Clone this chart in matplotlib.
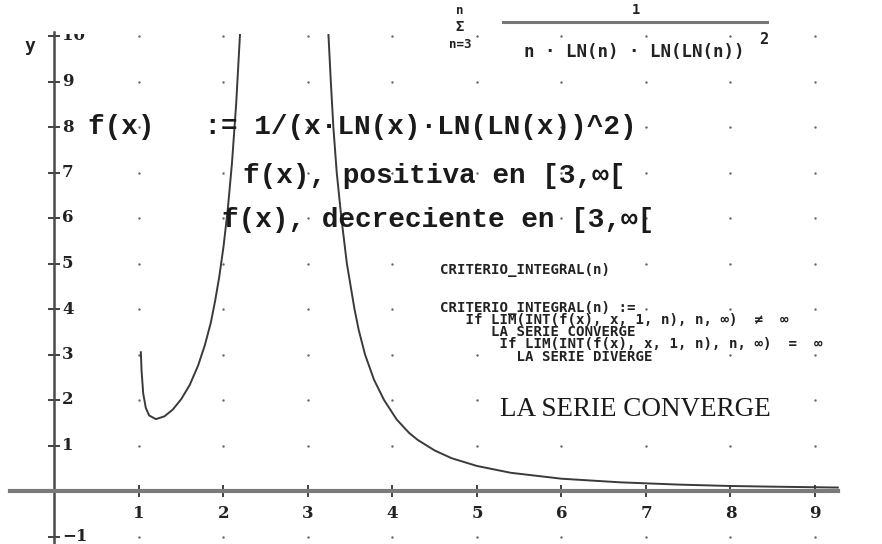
import matplotlib
matplotlib.use("Agg")
import matplotlib.pyplot as plt
from matplotlib.patches import Rectangle

# --- data ---
left_x = [1.022, 1.03, 1.05, 1.08, 1.12, 1.2, 1.3, 1.4, 1.5, 1.6, 1.7,
          1.78, 1.85, 1.9, 1.95, 2.0, 2.05, 2.1, 2.15, 2.2]
left_y = [3.05, 2.65, 2.14, 1.83, 1.66, 1.58, 1.64, 1.79, 2.02, 2.33, 2.76,
          3.21, 3.7, 4.17, 4.71, 5.37, 6.18, 7.2, 8.51, 10.2]
right_x = [3.24, 3.27, 3.30, 3.34, 3.395, 3.46, 3.55, 3.6, 3.675, 3.78, 3.9,
           4.05, 4.2, 4.3, 4.5, 4.7, 5.0, 5.4, 6.0, 6.7, 7.4, 8.0, 8.5, 9.27]
right_y = [10.1, 9.0, 8.0, 7.0, 6.0, 5.0, 4.0, 3.54, 3.0, 2.45, 2.0,
           1.57, 1.27, 1.12, 0.89, 0.72, 0.55, 0.40, 0.27, 0.19, 0.14, 0.11, 0.095, 0.076]

x_ticks = [1, 2, 3, 4, 5, 6, 7, 8, 9]
y_ticks = [-1, 1, 2, 3, 4, 5, 6, 7, 8, 9, 10]

W, H = 882, 544
X0, XS = 54.5, 84.5   # pixel of x=0, pixels per unit
Y0, YS = 491.0, 45.5  # pixel of y=0, pixels per unit

fig = plt.figure(figsize=(W / 100, H / 100), dpi=100)
ax = fig.add_axes([0, 0, 1, 1])
ax.set_xlim(-X0 / XS, (W - X0) / XS)
ax.set_ylim((Y0 - H) / YS, Y0 / YS)
ax.set_facecolor("white")


def px(x, y):
    # pixel position -> figure fraction, used for the formula block
    return x / W, 1 - y / H


# axes through the origin
for s in ["top", "right"]:
    ax.spines[s].set_visible(False)
ax.spines["left"].set_position(("data", 0))
ax.spines["bottom"].set_position(("data", 0))
ax.spines["left"].set_bounds((Y0 - H) / YS, 10.09)
ax.spines["bottom"].set_bounds((10 - X0) / XS, (838 - X0) / XS)
ax.spines["left"].set_color("#4a4a4a")
ax.spines["left"].set_linewidth(1.8)
ax.spines["bottom"].set_color("#7a7a7a")
ax.spines["bottom"].set_linewidth(3)

ax.set_xticks(x_ticks)
ax.set_yticks(y_ticks)
ax.tick_params(direction="inout", length=8, width=1.3, colors="#333333",
               labelbottom=False, labelleft=False)

clip = Rectangle((-1, -2), 12, 12.05, transform=ax.transData)

# tick labels
lab_font = dict(family="DejaVu Serif", weight="bold", fontsize=12, color="#222222")
for v in x_ticks:
    ax.text(v, -23 / YS, str(v), ha="center", va="center", **lab_font)
for v in y_ticks:
    t = ax.text(0.09, v, str(v).replace("-", "\u2212"), ha="left", va="center", **lab_font)
    t.set_clip_path(clip)
    t.set_clip_on(True)
ax.text(*px(30, 46), "y", transform=fig.transFigure, ha="center", va="center",
        family="DejaVu Sans Mono", weight="bold", fontsize=13, color="#222222")

# grid dots
gx = [x for x in x_ticks for y in y_ticks]
gy = [y for x in x_ticks for y in y_ticks]
ax.scatter(gx, gy, s=3, color="#666666", lw=0, zorder=1)

# curve
for xs, ys in [(left_x, left_y), (right_x, right_y)]:
    ln, = ax.plot(xs, ys, color="#3a3a3a", lw=1.4, zorder=3)
    ln.set_clip_path(clip)

# big definitions
big = dict(family="Liberation Mono", weight="bold", fontsize=20, color="#1a1a1a",
           va="center", ha="left", zorder=4)
ax.text((88 - X0) / XS, 8, "f(x)   := 1/(x\u00b7LN(x)\u00b7LN(LN(x))^2)", **big)
ax.text((243 - X0) / XS, (Y0 - 176) / YS, "f(x), positiva en [3,\u221e[", **big)
ax.text((222 - X0) / XS, (Y0 - 220) / YS, "f(x), decreciente en [3,\u221e[", **big)

# summation block
sm = dict(family="DejaVu Sans Mono", weight="bold", color="#222222",
          ha="center", va="center", transform=fig.transFigure)
fig.text(*px(460, 10), "n", fontsize=9, **sm)
fig.text(*px(460, 27), "\u03a3", fontsize=10, **sm)
fig.text(*px(460, 45), "n=3", fontsize=9, **sm)
fig.text(*px(636, 10), "1", fontsize=10, **sm)
fig.add_artist(plt.Line2D([503 / W, 767 / W], [1 - 22 / H, 1 - 22 / H],
                          color="#777777", lw=2.2))
fig.text(*px(634, 52), "n \u00b7 LN(n) \u00b7 LN(LN(n))", fontsize=12.5, **sm)
fig.text(*px(764, 39), "2", fontsize=11, **sm)

# CRITERIO_INTEGRAL block
small = dict(family="DejaVu Sans Mono", weight="bold", fontsize=10.2, color="#222222",
             ha="left", transform=fig.transFigure)
fig.text(*px(440, 270), "CRITERIO_INTEGRAL(n)", va="center", **small)
criterio = ("CRITERIO_INTEGRAL(n) :=\n"
            "   If LIM(INT(f(x), x, 1, n), n, \u221e)  \u2260  \u221e\n"
            "      LA SERIE CONVERGE\n"
            "       If LIM(INT(f(x), x, 1, n), n, \u221e)  =  \u221e\n"
            "         LA SERIE DIVERGE")
fig.text(*px(440, 301), criterio, va="top", linespacing=0.83, **small)

fig.text(*px(500, 410), "LA SERIE CONVERGE", family="Liberation Serif", fontsize=19.5,
         color="#1a1a1a", ha="left", va="center")

fig.savefig("out.png", dpi=100, facecolor="white")
